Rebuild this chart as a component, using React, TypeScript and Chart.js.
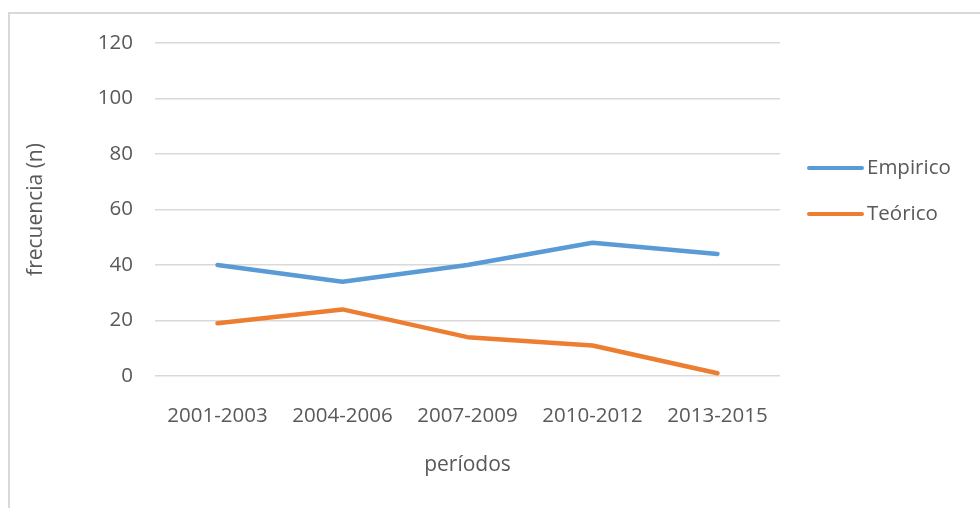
import React, { useEffect, useRef } from "react";
import { Chart, registerables } from "chart.js";

Chart.register(...registerables);

const categories = ["2001-2003", "2004-2006", "2007-2009", "2010-2012", "2013-2015"];
const empiricoValues = [40, 34, 40, 48, 44];
const teoricoValues = [19, 24, 14, 11, 1];
const seriesNames = ["Empirico", "Teórico"];
const seriesColors = ["#5b9bd5", "#ed7d31"];
const yTitle = "frecuencia (n)";
const xTitle = "períodos";

const FONT = "'Open Sans', 'Noto Sans', sans-serif";
const TEXT = "#595959";

const framePlugin = {
  id: "frame",
  beforeDraw(chart: any) {
    const ctx = chart.ctx;
    ctx.save();
    ctx.fillStyle = "#ffffff";
    ctx.fillRect(0, 0, chart.width, chart.height);
    ctx.strokeStyle = "#d9d9d9";
    ctx.lineWidth = 2;
    ctx.strokeRect(9, 13, chart.width + 50, chart.height + 50);
    ctx.restore();
  },
};

const legendPlugin = {
  id: "customLegend",
  afterDraw(chart: any) {
    const ctx = chart.ctx;
    const area = chart.chartArea;
    ctx.save();
    ctx.font = `20.5px ${FONT}`;
    ctx.textBaseline = "middle";
    ctx.textAlign = "left";
    chart.data.datasets.forEach((ds: any, i: number) => {
      const y = 168 + i * 46;
      const x0 = area.right + 29;
      ctx.strokeStyle = ds.borderColor;
      ctx.lineWidth = 4;
      ctx.lineCap = "round";
      ctx.beginPath();
      ctx.moveTo(x0, y);
      ctx.lineTo(x0 + 53, y);
      ctx.stroke();
      ctx.fillStyle = TEXT;
      ctx.fillText(ds.label, x0 + 58, y);
    });
    ctx.restore();
  },
};

export default function App() {
  const ref = useRef<HTMLCanvasElement>(null);
  useEffect(() => {
    if (!ref.current) return;
    const chart = new Chart(ref.current, {
      type: "line",
      data: {
        labels: categories,
        datasets: [
          {
            label: seriesNames[0],
            data: empiricoValues,
            borderColor: seriesColors[0],
            backgroundColor: seriesColors[0],
            borderWidth: 4.5,
            pointRadius: 0,
            borderCapStyle: "round",
            borderJoinStyle: "round",
            tension: 0,
          },
          {
            label: seriesNames[1],
            data: teoricoValues,
            borderColor: seriesColors[1],
            backgroundColor: seriesColors[1],
            borderWidth: 4.5,
            pointRadius: 0,
            borderCapStyle: "round",
            borderJoinStyle: "round",
            tension: 0,
          },
        ],
      },
      options: {
        responsive: false,
        animation: false,
        layout: { padding: { top: 43, right: 200, left: 0, bottom: 0 } },
        plugins: { legend: { display: false }, tooltip: { enabled: false } },
        scales: {
          x: {
            offset: true,
            grid: { display: false, drawTicks: false },
            border: { display: false },
            ticks: { color: TEXT, font: { family: FONT, size: 20.5 }, padding: 28, maxRotation: 0 },
            title: {
              display: true,
              text: xTitle,
              color: TEXT,
              font: { family: FONT, size: 21 },
              padding: { top: 0, bottom: 30 },
            },
            afterFit(scale: any) {
              scale.height = 132;
            },
          },
          y: {
            min: 0,
            max: 120,
            grid: { color: "#d9d9d9", lineWidth: 1.5, drawTicks: false },
            border: { display: false },
            ticks: { stepSize: 20, color: TEXT, font: { family: FONT, size: 20.5 }, padding: 22 },
            title: {
              display: true,
              text: yTitle,
              color: TEXT,
              font: { family: FONT, size: 21 },
              padding: { top: 23, bottom: 0 },
            },
            afterFit(scale: any) {
              scale.width = 155;
            },
          },
        },
      },
      plugins: [framePlugin, legendPlugin],
    });
    return () => chart.destroy();
  }, []);
  return (
    <div style={{ position: "absolute", left: 0, top: 0, width: 980, height: 508 }}>
      <canvas ref={ref} width={980} height={508} style={{ width: 980, height: 508, display: "block" }} />
    </div>
  );
}
